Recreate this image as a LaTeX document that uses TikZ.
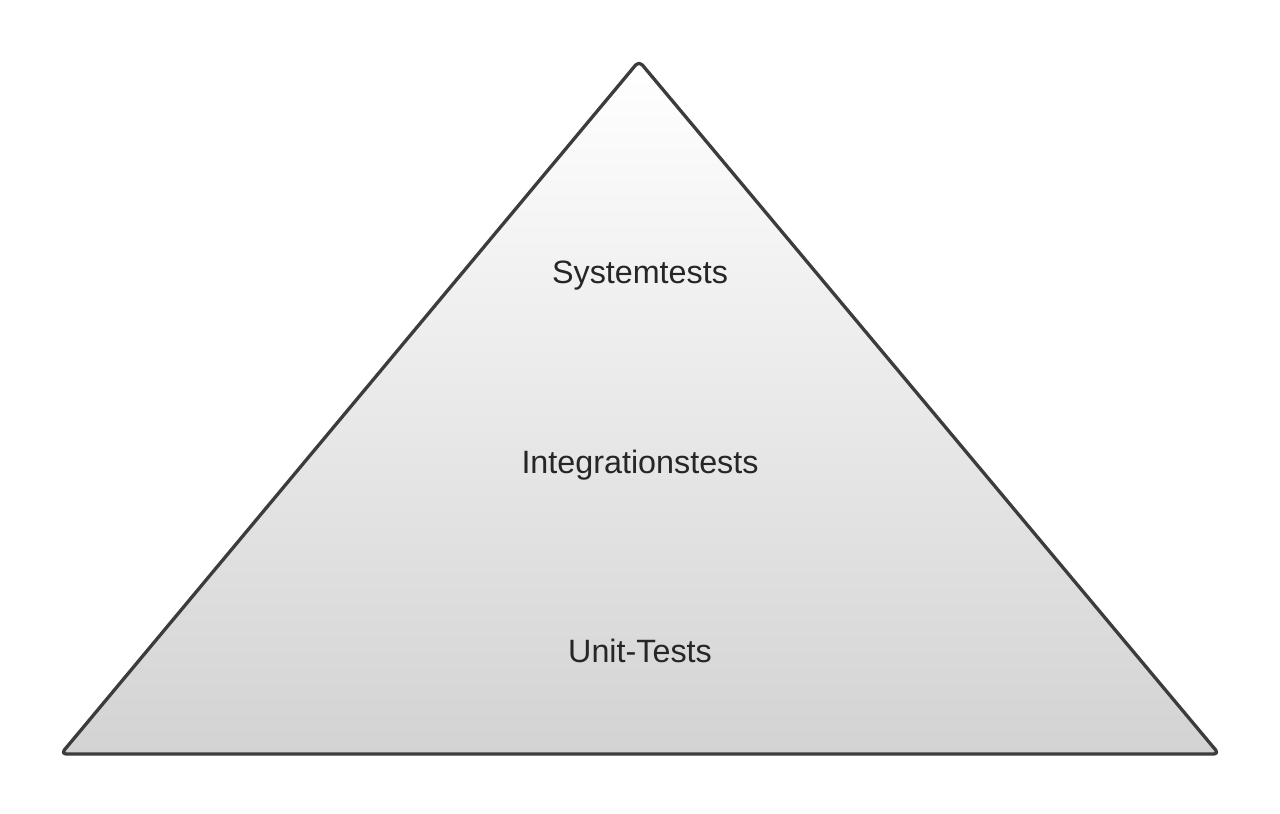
\documentclass[tikz,border=0pt]{standalone}
\usepackage{fontspec}
\setmainfont{Liberation Sans}
\definecolor{edgegray}{HTML}{3C3C3C}
\definecolor{textgray}{HTML}{262626}
\definecolor{botgray}{HTML}{D3D3D3}
\begin{document}
\begin{tikzpicture}[x=1pt,y=-1pt,
  pyramid/.style={draw=edgegray,line width=3.3pt,rounded corners=5pt,line join=round,top color=white,bottom color=botgray},
  level/.style={anchor=base,text=textgray,font=\fontsize{32.3}{38}\selectfont,inner sep=0pt}]
\useasboundingbox (0,0) rectangle (1280,814);
\fill[white] (0,0) rectangle (1280,814);
\coordinate (apex) at (639,61);
\coordinate (bl) at (61,754);
\coordinate (br) at (1219,754);
\path[pyramid] (apex) -- (br) -- (bl) -- cycle;
\node[level] (sys) at (640,283) {Systemtests};
\node[level] (int) at (640,473) {Integrationstests};
\node[level] (unit) at (640,662) {Unit-Tests};
\end{tikzpicture}
\end{document}
